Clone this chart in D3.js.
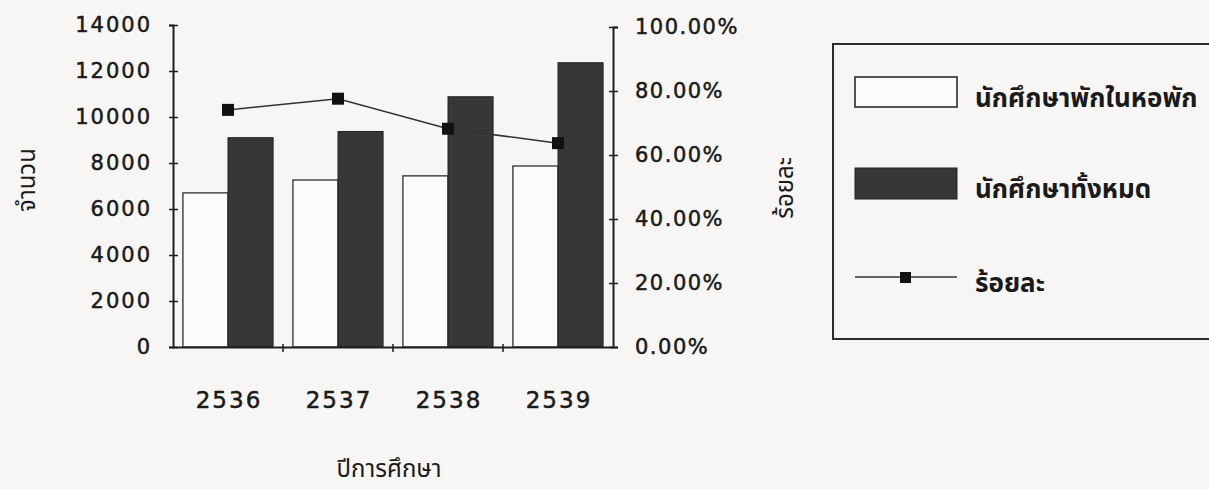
<!DOCTYPE html>
<html>
<head>
<meta charset="utf-8">
<script src="https://cdn.jsdelivr.net/npm/d3@7"></script>
<style>
  body { margin: 0; background: #f7f6f4; }
  svg { display: block; }
  .num { font-family: "DejaVu Sans", "Liberation Sans", sans-serif; fill: #1a1a1a;
         stroke: #1a1a1a; stroke-width: 0.5px; }
  .thai { font-family: "Noto Sans Thai", "Noto Sans", "Loma", "Garuda", sans-serif; fill: #1a1a1a; }
</style>
</head>
<body>
<svg id="chart" width="1209" height="489"></svg>
<script>
// data
let years = ["2536", "2537", "2538", "2539"];
let dorm = [6700, 7260, 7440, 7870];        // นักศึกษาพักในหอพัก
let total = [9100, 9370, 10880, 12360];     // นักศึกษาทั้งหมด
let percent = [0.741, 0.776, 0.682, 0.637]; // ร้อยละ
let leftTicks = [0, 2000, 4000, 6000, 8000, 10000, 12000, 14000];
let rightTicks = [0, 0.2, 0.4, 0.6, 0.8, 1.0];
let legendNames = ["นักศึกษาพักในหอพัก", "นักศึกษาทั้งหมด", "ร้อยละ"];

let svg = d3.select("#chart");
let dark = "#383738";
let ink = "#1e1e1e";

let plotLeft = 173, plotRight = 613, plotBottom = 347, plotTop = 26;

let x = d3.scaleBand().domain(years).range([plotLeft, plotRight]);
let xSub = d3.scaleBand().domain(["dorm", "total"])
  .range([0, x.bandwidth()]).paddingOuter(0.22);
let yLeft = d3.scaleLinear().domain([0, 14000]).range([plotBottom, plotTop - 1]);
let yRight = d3.scaleLinear().domain([0, 1]).range([plotBottom, plotTop + 1]);

// bars
let g = svg.append("g").attr("class", "bars");
years.forEach(function (yr, i) {
  g.append("rect")
    .attr("x", x(yr) + xSub("dorm"))
    .attr("y", yLeft(dorm[i]))
    .attr("width", xSub.bandwidth())
    .attr("height", plotBottom - yLeft(dorm[i]))
    .style("fill", "#fbfbfa")
    .style("stroke", ink)
    .style("stroke-width", 1.2);
  g.append("rect")
    .attr("x", x(yr) + xSub("total"))
    .attr("y", yLeft(total[i]))
    .attr("width", xSub.bandwidth())
    .attr("height", plotBottom - yLeft(total[i]))
    .style("fill", dark)
    .style("stroke", "#222")
    .style("stroke-width", 1);
});

// left axis
let axL = svg.append("g").attr("transform", "translate(" + plotLeft + ",0)")
  .call(d3.axisLeft(yLeft).tickValues(leftTicks).tickFormat(d3.format("d"))
    .tickSizeOuter(0).tickSize(4).tickPadding(17));
axL.select(".domain").style("stroke", ink).style("stroke-width", 2);
axL.selectAll(".tick line").attr("x1", 5).style("stroke", ink).style("stroke-width", 1.5);
axL.selectAll(".tick text").attr("class", "num")
  .style("font-size", "21px").style("letter-spacing", "2px");

// right axis
let axR = svg.append("g").attr("transform", "translate(" + plotRight + ",0)")
  .call(d3.axisRight(yRight).tickValues(rightTicks).tickFormat(d3.format(".2%"))
    .tickSizeOuter(0).tickSize(5).tickPadding(17));
axR.select(".domain").style("stroke", ink).style("stroke-width", 2);
axR.selectAll(".tick line").attr("x1", -4).style("stroke", ink).style("stroke-width", 1.5);
axR.selectAll(".tick text").attr("class", "num")
  .style("font-size", "21px").style("letter-spacing", "1.5px");

// bottom axis: labels at centres, ticks at category boundaries
let axB = svg.append("g").attr("transform", "translate(0," + plotBottom + ")")
  .call(d3.axisBottom(x).tickSize(0).tickSizeOuter(0).tickPadding(45));
axB.select(".domain").style("stroke", ink).style("stroke-width", 2);
axB.selectAll(".tick text").attr("class", "num")
  .style("font-size", "23px").style("letter-spacing", "2px").attr("dx", "1px");
axB.selectAll("line.bound").data(years.slice(1)).join("line")
  .attr("class", "bound")
  .attr("x1", function (d) { return x(d); })
  .attr("x2", function (d) { return x(d); })
  .attr("y1", -3).attr("y2", 5)
  .style("stroke", ink).style("stroke-width", 1.5);

// percent line
let pts = years.map(function (yr, i) {
  return [x(yr) + x.bandwidth() / 2, yRight(percent[i])];
});
svg.append("path")
  .attr("d", d3.line()(pts))
  .style("fill", "none").style("stroke", "#333").style("stroke-width", 1.5);
svg.selectAll("rect.marker").data(pts).join("rect")
  .attr("class", "marker")
  .attr("x", function (d) { return d[0] - 6; })
  .attr("y", function (d) { return d[1] - 6; })
  .attr("width", 12).attr("height", 12)
  .style("fill", "#111");

// axis titles
svg.append("text").attr("class", "thai")
  .attr("transform", "translate(35,180) rotate(-90)")
  .attr("text-anchor", "middle").style("font-size", "24px")
  .text("จำนวน");
svg.append("text").attr("class", "thai")
  .attr("transform", "translate(793,188) rotate(-90)")
  .attr("text-anchor", "middle").style("font-size", "24px")
  .text("ร้อยละ");
svg.append("text").attr("class", "thai")
  .attr("x", 389).attr("y", 477)
  .attr("text-anchor", "middle").style("font-size", "24px")
  .text("ปีการศึกษา");

// legend
let lg = svg.append("g").attr("class", "legend");
lg.append("rect")
  .attr("x", 833).attr("y", 44).attr("width", 400).attr("height", 295)
  .style("fill", "none").style("stroke", "#2a2a2a").style("stroke-width", 2);
let rowY = [92, 183, 277];
lg.append("rect").attr("x", 855).attr("y", rowY[0] - 15).attr("width", 102).attr("height", 30)
  .style("fill", "#fbfbfa").style("stroke", ink).style("stroke-width", 1.5);
lg.append("rect").attr("x", 855).attr("y", rowY[1] - 15).attr("width", 102).attr("height", 31)
  .style("fill", dark).style("stroke", "#222").style("stroke-width", 1);
lg.append("line").attr("x1", 855).attr("x2", 957).attr("y1", rowY[2]).attr("y2", rowY[2])
  .style("stroke", "#333").style("stroke-width", 1.5);
lg.append("rect").attr("x", 900).attr("y", rowY[2] - 5).attr("width", 11).attr("height", 11)
  .style("fill", "#111");
lg.selectAll("text").data(legendNames).join("text")
  .attr("class", "thai")
  .attr("x", 975)
  .attr("y", function (d, i) { return rowY[i] + 15; })
  .style("font-size", "26px").style("font-weight", "bold")
  .text(function (d) { return d; });
</script>
</body>
</html>
